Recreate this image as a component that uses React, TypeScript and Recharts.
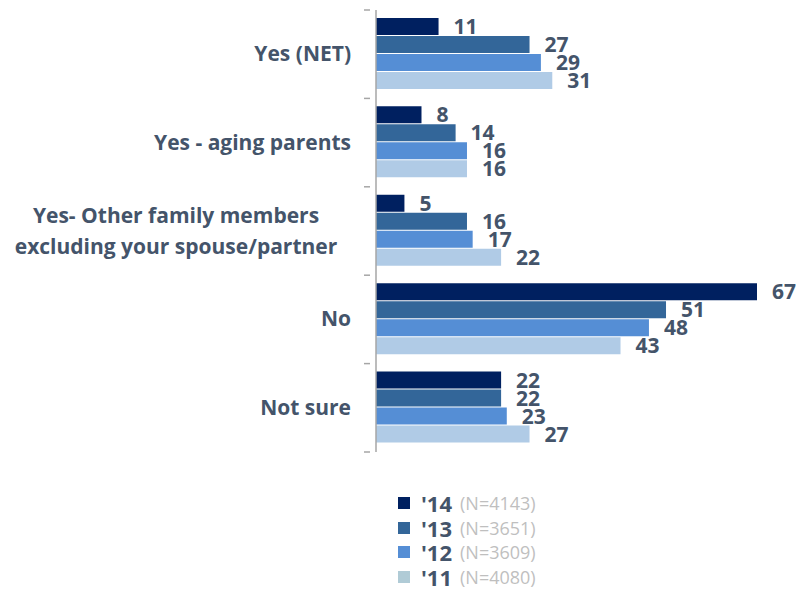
import { BarChart, Bar, XAxis, YAxis, LabelList } from "recharts";

const categories = [
  "Yes (NET)",
  "Yes - aging parents",
  "Yes- Other family members|excluding your spouse/partner",
  "No",
  "Not sure",
];
const y14 = [11, 8, 5, 67, 22];
const y13 = [27, 14, 16, 51, 22];
const y12 = [29, 16, 17, 48, 23];
const y11 = [31, 16, 22, 43, 27];

const seriesNames = ["'14", "'13", "'12", "'11"];
const sampleSizes = ["(N=4143)", "(N=3651)", "(N=3609)", "(N=4080)"];
const barColors = ["#002060", "#336699", "#558ED5", "#B0CBE6"];
const legendColors = ["#002060", "#336699", "#558ED5", "#B0CBD6"];

const data = categories.map((c, i) => ({
  name: c,
  y14: y14[i],
  y13: y13[i],
  y12: y12[i],
  y11: y11[i],
}));

const TEXT = "#44546A";
const FONT = "'Open Sans', sans-serif";

function CategoryTick(props: any) {
  const { x, y, payload, index } = props;
  const half = payload && payload.offset ? payload.offset : 44.2;
  const lines = String(payload.value).split("|");
  const axisX = x + 19;
  return (
    <g>
      <line x1={axisX - 6} x2={axisX} y1={y - half} y2={y - half} stroke="#A6A6A6" strokeWidth={1.5} />
      {index === categories.length - 1 && (
        <line x1={axisX - 6} x2={axisX} y1={y + half} y2={y + half} stroke="#A6A6A6" strokeWidth={1.5} />
      )}
      {lines.length === 1 ? (
        <text x={x} y={y} dy={7} textAnchor="end" fill={TEXT} fontSize={21} fontWeight={700} fontFamily={FONT}>
          {lines[0]}
        </text>
      ) : (
        lines.map((l, i) => (
          <text
            key={i}
            x={x - 175}
            y={y + (i - (lines.length - 1) / 2) * 31}
            dy={7}
            textAnchor="middle"
            fill={TEXT}
            fontSize={21}
            fontWeight={700}
            fontFamily={FONT}
          >
            {l}
          </text>
        ))
      )}
    </g>
  );
}

function LegendBox() {
  return (
    <div style={{ position: "absolute", left: 398, top: 491, fontFamily: FONT }}>
      {seriesNames.map((s, i) => (
        <div key={s} style={{ display: "flex", alignItems: "center", height: 24.5 }}>
          <div style={{ width: 12, height: 12, background: legendColors[i], marginRight: 11 }} />
          <span style={{ color: TEXT, fontWeight: 700, fontSize: 22, marginRight: 8 }}>{s}</span>
          <span style={{ color: "#BFBFBF", fontSize: 18 }}>{sampleSizes[i]}</span>
        </div>
      ))}
    </div>
  );
}

export default function App() {
  const keys = ["y14", "y13", "y12", "y11"];
  return (
    <div style={{ position: "relative", width: 801, height: 594, background: "#fff" }}>
      <style>{`body{margin:0}`}</style>
      <BarChart
        width={801}
        height={594}
        data={data}
        layout="vertical"
        margin={{ top: 10, right: 44, left: 0, bottom: 142 }}
        barCategoryGap="9%"
        barGap={1}
      >
        <XAxis type="number" domain={[0, 67]} hide />
        <YAxis
          type="category"
          dataKey="name"
          width={376}
          tickLine={false}
          axisLine={{ stroke: "#A6A6A6", strokeWidth: 1.5 }}
          tick={<CategoryTick />}
          tickMargin={19}
          interval={0}
        />
        {keys.map((k, i) => (
          <Bar key={k} dataKey={k} name={seriesNames[i]} fill={barColors[i]} isAnimationActive={false}>
            <LabelList
              dataKey={k}
              position="right"
              offset={15}
              fill={TEXT}
              fontSize={21}
              fontWeight={700}
              fontFamily={FONT}
            />
          </Bar>
        ))}
      </BarChart>
      <LegendBox />
    </div>
  );
}
